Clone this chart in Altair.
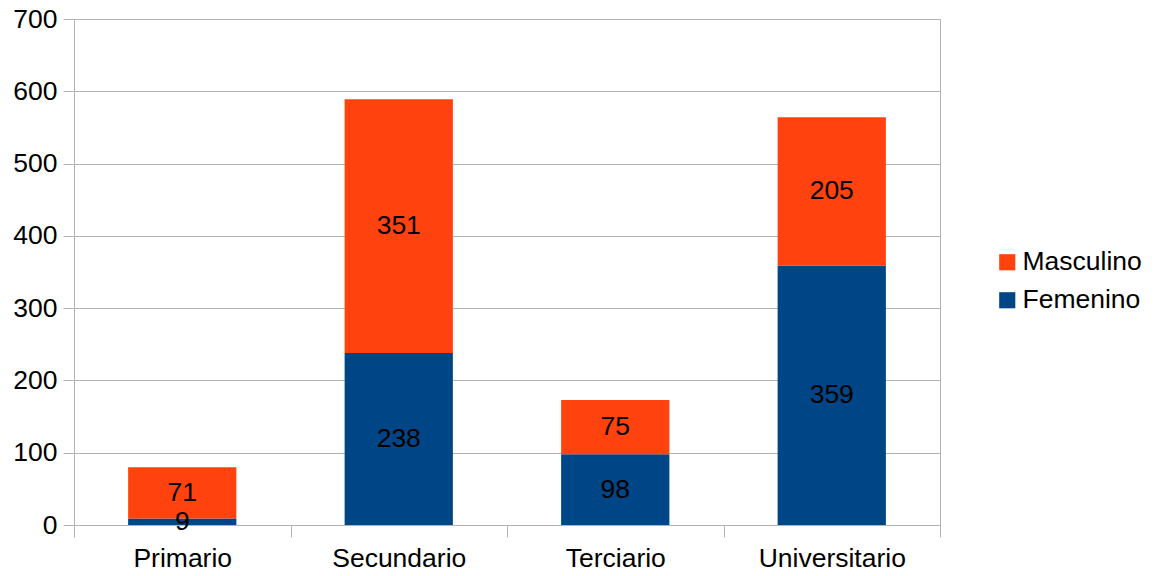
import altair as alt
import pandas as pd

categories = ["Primario", "Secundario", "Terciario", "Universitario"]
femenino = [9, 238, 98, 359]
masculino = [71, 351, 75, 205]
series = ["Masculino", "Femenino"]
colors = ["#ff420e", "#004586"]

rows = []
for c, f, m in zip(categories, femenino, masculino):
    rows.append({"cat": c, "serie": "Femenino", "value": f, "ord": 0})
    rows.append({"cat": c, "serie": "Masculino", "value": m, "ord": 1})
df = pd.DataFrame(rows)

FONT = "Liberation Sans"
FS = 26.5
HALF_BAND = 54.125

base = alt.Chart(df).transform_stack(
    stack="value", groupby=["cat"], as_=["y0", "y1"], sort=[{"field": "ord", "order": "ascending"}]
).transform_calculate(mid="(datum.y0 + datum.y1) / 2")

xenc = alt.X(
    "cat:N",
    sort=categories,
    title=None,
    scale=alt.Scale(paddingInner=0.5, paddingOuter=0.25),
    axis=alt.Axis(
        labelAngle=0, labelFont=FONT, labelFontSize=FS, labelColor="#000000",
        bandPosition=2, tickExtra=True, tickOffset=-HALF_BAND, labelOffset=HALF_BAND,
        tickSize=12, tickColor="#b3b3b3",
        domainColor="#b3b3b3", grid=False, labelPadding=8,
    ),
)

bars = base.mark_bar().encode(
    x=xenc,
    y=alt.Y(
        "y0:Q", title=None,
        scale=alt.Scale(domain=[0, 700]),
        axis=alt.Axis(
            values=[0, 100, 200, 300, 400, 500, 600, 700],
            labelFont=FONT, labelFontSize=FS, labelColor="#000000",
            tickSize=11, tickColor="#b3b3b3", domainColor="#b3b3b3",
            gridColor="#b3b3b3", labelPadding=6,
        ),
    ),
    y2="y1:Q",
    color=alt.Color(
        "serie:N",
        scale=alt.Scale(domain=series, range=colors),
        legend=alt.Legend(
            title=None, orient="none", legendX=920, legendY=230,
            symbolType="square", symbolSize=260, symbolStrokeWidth=0,
            labelFont=FONT, labelFontSize=FS, labelColor="#000000",
            rowPadding=11, labelOffset=2,
        ),
    ),
)

labels = base.mark_text(font=FONT, fontSize=FS, color="#000000", baseline="middle").encode(
    x=alt.X("cat:N", sort=categories),
    y=alt.Y("mid:Q"),
    text=alt.Text("value:Q"),
)

chart = alt.layer(bars, labels).properties(
    width=866, height=506,
    padding={"left": 66, "top": 11, "right": 206, "bottom": 50},
    autosize=alt.AutoSizeParams(type="none"),
).configure_view(stroke="#b3b3b3", strokeWidth=1)

chart.save("out.html", embed_options={"renderer": "svg", "actions": False})
